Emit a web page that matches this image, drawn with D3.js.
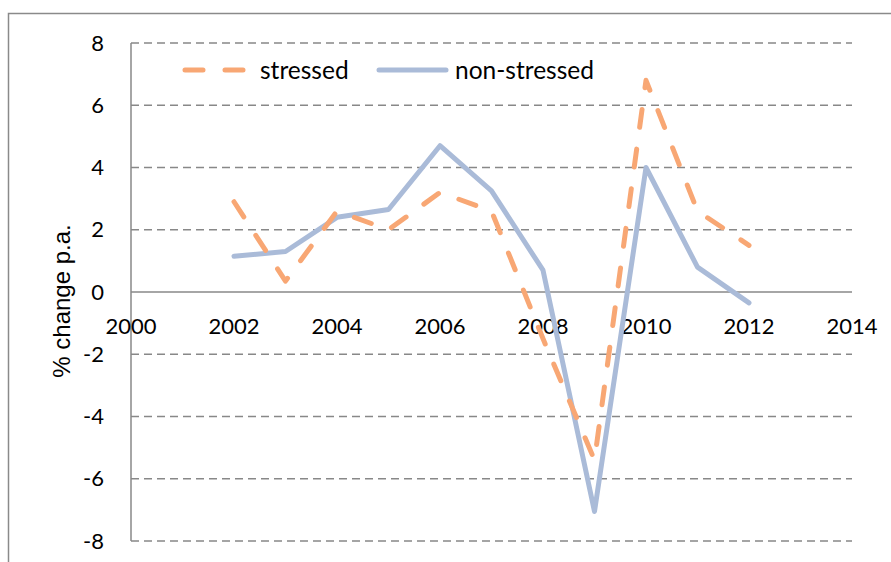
<!DOCTYPE html>
<html>
<head>
<meta charset="utf-8">
<script src="https://cdn.jsdelivr.net/npm/d3@7"></script>
<style>
  body { margin: 0; background: #fff; }
  svg { display: block; }
</style>
</head>
<body>
<svg id="chart"></svg>
<script>
const width = 891;
const height = 562;

// Data
const years = [2002, 2003, 2004, 2005, 2006, 2007, 2008, 2009, 2010, 2011, 2012];
const stressed = [2.9, 0.35, 2.6, 2.0, 3.2, 2.6, -1.5, -5.4, 6.8, 2.6, 1.5];
const nonStressed = [1.15, 1.3, 2.4, 2.65, 4.7, 3.25, 0.7, -7.05, 4.0, 0.8, -0.35];

const xTicks = [2000, 2002, 2004, 2006, 2008, 2010, 2012, 2014];
const yTicks = [-8, -6, -4, -2, 0, 2, 4, 6, 8];

const seriesNames = ["stressed", "non-stressed"];
const seriesColors = ["#F8A774", "#AABBD8"];

const margin = {top: 43, left: 131, right: 891 - 852, bottom: 562 - 541};

const labelFont = "Lato, 'Open Sans', sans-serif";

const svg = d3.select("#chart")
    .attr("width", width)
    .attr("height", height);

// Outer frame (top and left visible)
svg.append("path")
    .attr("d", `M8.5,${height} V13.5 H${width}`)
    .attr("fill", "none")
    .attr("stroke", "#8a8a8a")
    .attr("stroke-width", 1.5);

let x = d3.scaleLinear()
    .domain([2000, 2014])
    .range([margin.left, width - margin.right]);

let y = d3.scaleLinear()
    .domain([-8, 8])
    .range([height - margin.bottom, margin.top]);

// Dashed gridlines
svg.append("g")
    .selectAll("line")
    .data(yTicks.filter(d => d !== 0))
    .join("line")
    .attr("x1", x(2000))
    .attr("x2", x(2014))
    .attr("y1", d => y(d))
    .attr("y2", d => y(d))
    .attr("stroke", "#888")
    .attr("stroke-width", 1.5)
    .attr("stroke-dasharray", "8,5");

// Y axis line
svg.append("line")
    .attr("x1", x(2000)).attr("x2", x(2000))
    .attr("y1", y(8)).attr("y2", y(-8))
    .attr("stroke", "#888")
    .attr("stroke-width", 1.5);

// Zero line
svg.append("line")
    .attr("x1", x(2000)).attr("x2", x(2014))
    .attr("y1", y(0)).attr("y2", y(0))
    .attr("stroke", "#888")
    .attr("stroke-width", 1.5);

// Y tick labels
svg.append("g")
    .selectAll("text")
    .data(yTicks)
    .join("text")
    .attr("x", 104)
    .attr("y", d => y(d))
    .attr("dy", "0.35em")
    .attr("text-anchor", "end")
    .style("font-family", labelFont)
    .style("font-size", "22px")
    .text(d => d);

// X tick labels (sit just under the zero line)
svg.append("g")
    .selectAll("text")
    .data(xTicks)
    .join("text")
    .attr("x", d => x(d))
    .attr("y", y(0) + 34)
    .attr("dy", "0.35em")
    .attr("text-anchor", "middle")
    .style("font-family", labelFont)
    .style("font-size", "22px")
    .text(d => d);

// Y axis title
svg.append("text")
    .attr("transform", `translate(70,${y(0) + 9}) rotate(-90)`)
    .attr("text-anchor", "middle")
    .style("font-family", "'Liberation Sans', Arial, sans-serif")
    .style("font-size", "24px")
    .text("% change p.a.");

let line = d3.line()
    .x(d => x(d[0]))
    .y(d => y(d[1]));

// non-stressed drawn first, stressed dashes over it
svg.append("path")
    .datum(years.map((yr, i) => [yr, nonStressed[i]]))
    .attr("d", line)
    .attr("fill", "none")
    .attr("stroke", seriesColors[1])
    .attr("stroke-width", 5)
    .attr("stroke-linejoin", "round")
    .attr("stroke-linecap", "round");

svg.append("path")
    .datum(years.map((yr, i) => [yr, stressed[i]]))
    .attr("d", line)
    .attr("fill", "none")
    .attr("stroke", seriesColors[0])
    .attr("stroke-width", 5)
    .attr("stroke-dasharray", "18,22")
    .attr("stroke-linejoin", "round")
    .attr("stroke-linecap", "round");

// Legend
let legendY = 70;
let legend = svg.append("g");

legend.append("line")
    .attr("x1", 185).attr("x2", 245)
    .attr("y1", legendY).attr("y2", legendY)
    .attr("stroke", seriesColors[0])
    .attr("stroke-width", 5)
    .attr("stroke-linecap", "round")
    .attr("stroke-dasharray", "18,22");

legend.append("text")
    .attr("x", 260)
    .attr("y", legendY)
    .attr("dy", "0.35em")
    .style("font-family", labelFont)
    .style("font-size", "24.5px")
    .text(seriesNames[0]);

legend.append("line")
    .attr("x1", 379).attr("x2", 446)
    .attr("y1", legendY).attr("y2", legendY)
    .attr("stroke", seriesColors[1])
    .attr("stroke-width", 5)
    .attr("stroke-linecap", "round");

legend.append("text")
    .attr("x", 455)
    .attr("y", legendY)
    .attr("dy", "0.35em")
    .style("font-family", labelFont)
    .style("font-size", "24.5px")
    .text(seriesNames[1]);
</script>
</body>
</html>
